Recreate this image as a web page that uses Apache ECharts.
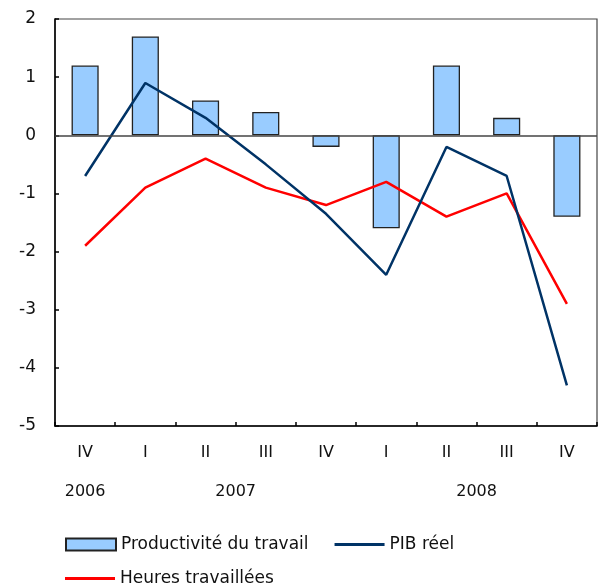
<!DOCTYPE html>
<html><head><meta charset="utf-8">
<script src="https://cdn.jsdelivr.net/npm/echarts@6/dist/echarts.min.js"></script>
<style>html,body{margin:0;padding:0;background:#fff}#c{width:600px;height:585px}</style>
</head><body><div id="c"></div>
<script>
const quarters = ['IV','I','II','III','IV','I','II','III','IV'];
const years = ['2006','2007','2008'];
const yearStart = [0,1,5];
const yearEnd = [0,4,8];
const productivite = [1.2,1.7,0.6,0.4,-0.2,-1.6,1.2,0.3,-1.4];
const pib = [-0.7,0.9,0.3,-0.5,-1.35,-2.4,-0.2,-0.7,-4.3];
const heures = [-1.9,-0.9,-0.4,-0.9,-1.2,-0.8,-1.4,-1.0,-2.9];
const yTicks = [2,1,0,-1,-2,-3,-4,-5];

const FONT = 'DejaVu Sans';
const yearCenters = years.map((y,i)=>(yearStart[i]+yearEnd[i]+1)/2);
const LINE_ICON = 'path://M0,0L50,0L50,3L0,3Z';

const chart = echarts.init(document.getElementById('c'), null, {renderer:'canvas'});
chart.setOption({
  animation:false,
  grid:{left:55,right:2,top:19,bottom:159,show:true,borderColor:'#444',borderWidth:1.2,backgroundColor:'transparent'},
  xAxis:[{
    type:'category', data:quarters, position:'bottom',
    axisLine:{show:true,onZero:false,lineStyle:{color:'#000',width:1.5}},
    axisTick:{show:true,inside:true,length:4,lineStyle:{color:'#000',width:1.5}},
    axisLabel:{color:'#111',fontFamily:FONT,fontSize:16,margin:19},
    splitLine:{show:false}
  },{
    type:'value', min:0, max:quarters.length, interval:0.5, position:'bottom', offset:39,
    axisLine:{show:false}, axisTick:{show:false}, splitLine:{show:false},
    axisLabel:{color:'#111',fontFamily:FONT,fontSize:16,margin:19,
      formatter:function(v){const k=yearCenters.findIndex(c=>Math.abs(c-v)<1e-6);return k>=0?years[k]:'';}}
  }],
  yAxis:{
    type:'value', min:yTicks[yTicks.length-1], max:yTicks[0], interval:1,
    axisLine:{show:true,onZero:false,lineStyle:{color:'#000',width:1.5}},
    axisTick:{show:true,inside:true,length:4,lineStyle:{color:'#000',width:1.5}},
    axisLabel:{color:'#111',fontFamily:FONT,fontSize:17,margin:19},
    splitLine:{show:false}
  },
  legend:[{
    left:60, top:531, itemWidth:50, itemHeight:12, itemGap:26,
    textStyle:{color:'#111',fontFamily:FONT,fontSize:17},
    data:[{name:'Productivité du travail',icon:'rect'},{name:'PIB réel',icon:LINE_ICON}]
  },{
    left:60, top:565, itemWidth:50, itemHeight:12,
    textStyle:{color:'#111',fontFamily:FONT,fontSize:17},
    data:[{name:'Heures travaillées',icon:LINE_ICON}]
  }],
  series:[{
    name:'Productivité du travail', type:'bar', data:productivite, barWidth:'45%',
    itemStyle:{color:'#99CCFF',borderColor:'#222',borderWidth:1.3},
    markLine:{silent:true,symbol:'none',label:{show:false},lineStyle:{color:'#444',type:'solid',width:1.5},data:[{yAxis:0}]},
    z:2
  },{
    name:'PIB réel', type:'line', data:pib, symbol:'none',
    lineStyle:{color:'#003366',width:2.5}, itemStyle:{color:'#003366'}, z:4
  },{
    name:'Heures travaillées', type:'line', data:heures, symbol:'none',
    lineStyle:{color:'#FF0000',width:2.5}, itemStyle:{color:'#FF0000'}, z:3
  }]
});
</script></body></html>
